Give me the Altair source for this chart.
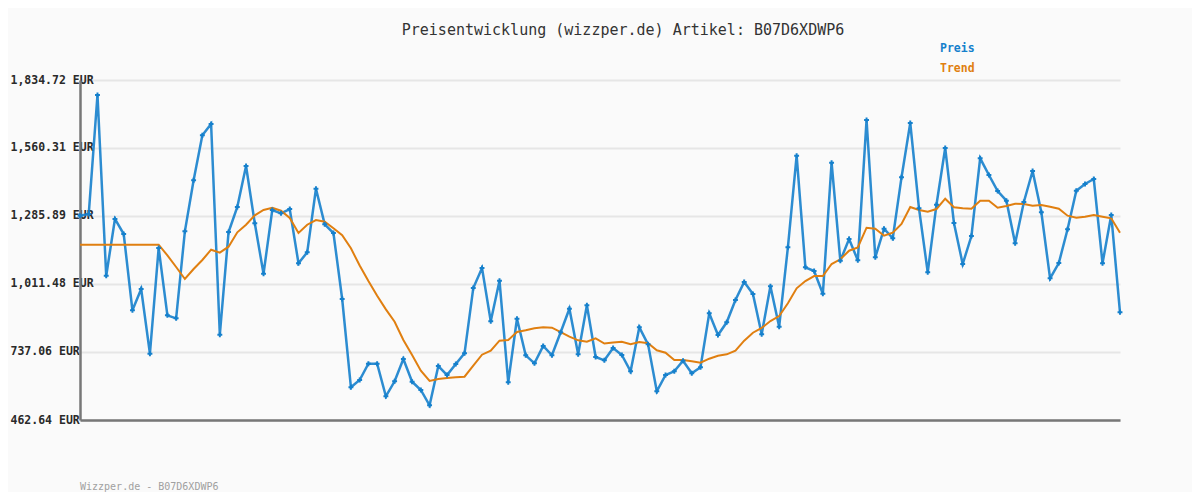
import altair as alt
import pandas as pd

# ---- data ----
preis = [
    1287.1, 1293.9, 1774.2, 1044.9, 1273.8, 1213.2, 905.3, 991.3, 730.2, 1156.7,
    885.1, 873.0, 1224.1, 1429.9, 1611.5, 1657.1, 806.8, 1221.3, 1322.2, 1487.6,
    1256.4, 1053.0, 1310.1, 1296.8, 1314.1, 1095.0, 1139.4, 1396.0, 1252.4, 1217.3,
    950.9, 594.6, 624.0, 689.8, 689.8, 558.2, 618.8, 708.8, 617.2, 583.7,
    521.9, 680.5, 644.2, 688.6, 731.8, 995.3, 1076.0, 860.9, 1024.8, 614.7,
    871.4, 723.7, 691.4, 761.2, 723.7, 816.5, 911.8, 727.7, 925.5, 716.8,
    703.5, 753.2, 724.9, 659.1, 836.7, 768.1, 578.4, 644.2, 659.1, 701.9,
    651.1, 675.3, 893.2, 805.6, 856.9, 946.9, 1019.5, 971.1, 808.4, 1002.2,
    839.1, 1159.5, 1529.2, 1078.8, 1063.9, 972.3, 1501.0, 1105.5, 1193.0, 1107.1,
    1673.3, 1119.2, 1234.6, 1195.9, 1442.0, 1661.2, 1316.9, 1058.7, 1331.5, 1560.3,
    1257.6, 1092.1, 1205.1, 1518.7, 1451.3, 1386.8, 1347.6, 1175.7, 1342.4, 1467.5,
    1300.8, 1034.4, 1096.2, 1232.2, 1388.0, 1415.0, 1435.2, 1095.0, 1289.9, 897.2,
]
trend = [
    1170.0, 1170.0, 1170.0, 1170.0, 1170.0, 1170.0, 1170.0, 1170.0, 1170.0, 1170.0,
    1127.3, 1080.0, 1031.6, 1072.0, 1108.3, 1149.9, 1137.8, 1162.0, 1220.1, 1250.8,
    1288.7, 1310.1, 1319.4, 1307.2, 1277.8, 1217.3, 1250.8, 1269.7, 1262.9, 1236.2,
    1208.0, 1155.5, 1086.1, 1023.5, 964.2, 909.3, 859.3, 785.4, 724.9, 661.5,
    620.0, 628.1, 632.1, 634.9, 637.3, 681.7, 726.1, 742.3, 782.6, 785.4,
    817.7, 824.6, 832.7, 836.7, 835.1, 817.7, 798.8, 784.2, 778.6, 792.3,
    771.3, 775.4, 778.6, 768.1, 777.4, 772.1, 743.9, 734.2, 704.7, 704.7,
    699.5, 693.8, 710.0, 722.1, 727.7, 742.3, 782.6, 814.9, 833.9, 862.1,
    882.3, 933.5, 994.1, 1023.5, 1043.7, 1043.7, 1092.1, 1111.1, 1145.8, 1158.7,
    1238.6, 1234.6, 1206.4, 1218.5, 1253.6, 1322.2, 1310.1, 1303.2, 1314.1, 1355.7,
    1321.0, 1316.9, 1315.3, 1347.6, 1347.6, 1319.4, 1326.2, 1335.5, 1334.3, 1327.4,
    1330.3, 1323.4, 1315.3, 1287.1, 1279.0, 1283.0, 1290.0, 1283.0, 1276.6, 1218.5,
]
y_ticks = [462.64, 737.06, 1011.48, 1285.89, 1560.31, 1834.72]
series_names = ["Preis", "Trend"]
series_colors = ["#1580cc", "#e07f10"]
title_text = "Preisentwicklung (wizzper.de) Artikel: B07D6XDWP6"
footer_text = ["Wizzper.de - B07D6XDWP6"]

MONO = "DejaVu Sans Mono"

n = len(preis)
df = pd.DataFrame({"i": list(range(n)), "Preis": preis, "Trend": trend})
long = df.melt("i", var_name="series", value_name="price")
legend_df = pd.DataFrame({"series": series_names})
footer_df = pd.DataFrame({"t": footer_text})

color_scale = alt.Scale(domain=series_names, range=series_colors)

x_enc = alt.X(
    "i:Q",
    scale=alt.Scale(domain=[0, n - 1], nice=False, zero=False),
    axis=alt.Axis(labels=False, ticks=False, grid=False, title=None,
                  domainColor="#777777", domainWidth=2.5),
)
y_enc = alt.Y(
    "price:Q",
    scale=alt.Scale(domain=[y_ticks[0], y_ticks[-1]], nice=False, zero=False),
    axis=alt.Axis(
        values=y_ticks,
        labelExpr="format(datum.value, ',.2f') + ' EUR'",
        ticks=False,
        labelAlign="left",
        labelBaseline="middle",
        labelPadding=70,
        labelFont=MONO,
        labelFontWeight="bold",
        labelFontSize=11.5,
        labelColor="#2a2a2a",
        grid=True,
        gridColor="#e6e6e6",
        gridWidth=2,
        domainColor="#777777",
        domainWidth=2.5,
        title=None,
    ),
)

base = alt.Chart(long).encode(
    x=x_enc,
    y=y_enc,
    color=alt.Color("series:N", scale=color_scale, legend=None),
)

preis_line = base.transform_filter(alt.datum.series == "Preis").mark_line(
    strokeWidth=2.5, opacity=0.9
)
preis_pts = base.transform_filter(alt.datum.series == "Preis").mark_point(
    shape="cross", filled=True, size=24, color="#0b6db8", opacity=1
)
trend_line = base.transform_filter(alt.datum.series == "Trend").mark_line(
    strokeWidth=2
)

legend_base = alt.Chart(legend_df).encode(
    text="series:N",
    color=alt.Color("series:N", scale=color_scale, legend=None),
)
legend_preis = legend_base.transform_filter(alt.datum.series == "Preis").mark_text(
    font=MONO, fontWeight="bold", fontSize=11.5, align="left", baseline="middle"
).encode(x=alt.value(860), y=alt.value(-31))
legend_trend = legend_base.transform_filter(alt.datum.series == "Trend").mark_text(
    font=MONO, fontWeight="bold", fontSize=11.5, align="left", baseline="middle"
).encode(x=alt.value(860), y=alt.value(-11))

footer = alt.Chart(footer_df).mark_text(
    font=MONO, fontSize=10, color="#a0a0a0", align="left", baseline="middle"
).encode(text="t:N", x=alt.value(0), y=alt.value(407))

chart = alt.layer(
    preis_line, trend_line, preis_pts, legend_preis, legend_trend, footer
).properties(
    width=1040,
    height=340,
    title=alt.TitleParams(
        text=title_text, font=MONO, fontSize=15, fontWeight="normal",
        color="#333333", anchor="middle", dx=23, baseline="middle", offset=-2,
    ),
    autosize=alt.AutoSizeParams(type="none"),
    padding={"left": 72, "top": 72, "right": 72, "bottom": 72},
    background="#fafafa",
).configure_view(stroke=None)

chart.save("out.html", embed_options={"renderer": "svg", "actions": False})
